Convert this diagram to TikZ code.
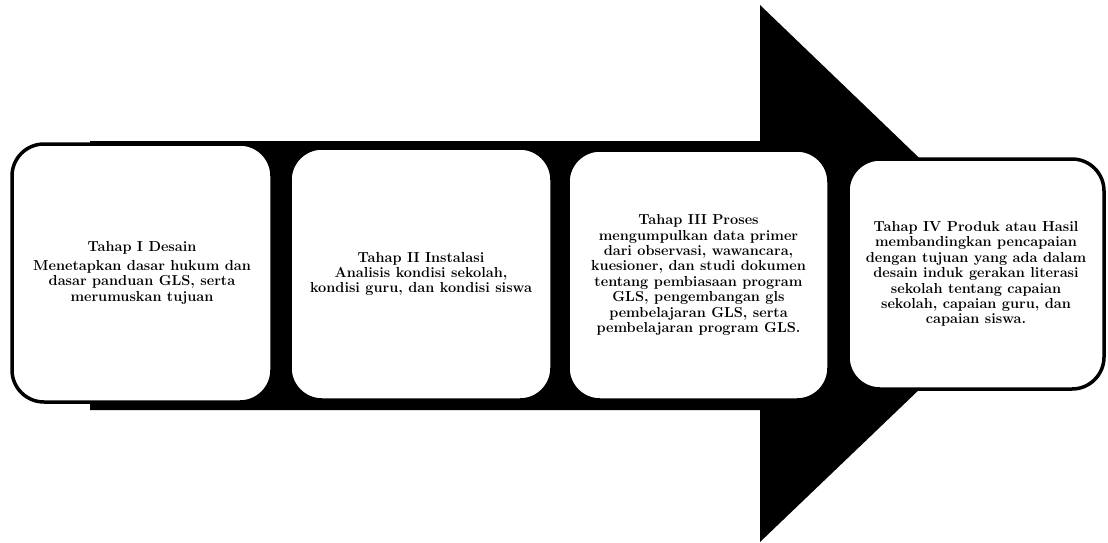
\documentclass[tikz,border=0pt]{standalone}
\usepackage{tikz}
\usetikzlibrary{positioning}
\tikzset{
	stagebox/.style={rectangle, rounded corners=32pt, draw=black, fill=white, line width=3.5pt, align=center, inner sep=0pt},
	stagetext/.style={font=\bfseries\fontsize{14.5}{15.4}\selectfont}
}

\begin{document}
\begin{tikzpicture}[x=1pt, y=-1pt]
		\useasboundingbox (0,0) rectangle (1108,543);
		% big arrow behind the stages
		\coordinate (bodyTL) at (90,141);
		\coordinate (bodyBL) at (90,410);
		\coordinate (headT) at (760,5);
		\coordinate (headB) at (760,542);
		\coordinate (tip) at (1040,274);
		\fill[black] (bodyTL) -- (760,141) -- (headT) -- (tip) -- (headB) -- (760,410) -- (bodyBL) -- cycle;
		
		\node[stagebox, minimum width=260pt, minimum height=258pt] at (142,273) (s1) {};
		\node[stagebox, minimum width=262pt, minimum height=252pt] at (421,274) (s2) {};
		\node[stagebox, minimum width=261pt, minimum height=250pt] at (698.5,275) (s3) {};
		\node[stagebox, minimum width=256pt, minimum height=230pt] at (976,274) (s4) {};
		
		\node[stagetext, align=center] at (s1) (t1) {Tahap I Desain\\[3pt] Menetapkan dasar hukum dan\\ dasar panduan GLS, serta\\ merumuskan tujuan};
		\node[stagetext, align=center] at (s2) (t2) {Tahap II Instalasi\\ Analisis kondisi sekolah,\\ kondisi guru, dan kondisi siswa};
		\node[stagetext, align=center] at (s3) (t3) {Tahap III Proses\\ mengumpulkan data primer\\ dari observasi, wawancara,\\ kuesioner, dan studi dokumen\\ tentang pembiasaan program\\ GLS, pengembangan gls\\ pembelajaran GLS, serta\\ pembelajaran program GLS.};
		\node[stagetext, align=center] at (s4) (t4) {Tahap IV Produk atau Hasil\\ membandingkan pencapaian\\ dengan tujuan yang ada dalam\\ desain induk gerakan literasi\\ sekolah tentang capaian\\ sekolah, capaian guru, dan\\ capaian siswa.};
		
	\end{tikzpicture}
\end{document}
